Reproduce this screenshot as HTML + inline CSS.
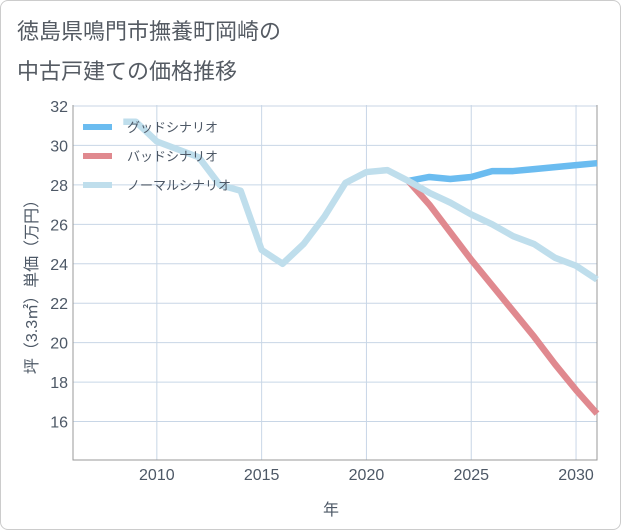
<!DOCTYPE html>
<html><head><meta charset="utf-8"><style>
body{margin:0;background:#fff;font-family:"Liberation Sans","Noto Sans CJK JP",sans-serif}
#wrap{position:relative;width:619px;height:528px;border:1px solid #ccc;border-radius:8px;background:#fff;overflow:hidden}
</style></head><body>
<div id="wrap">
<svg id="chart" width="619" height="528">
<text x="16" y="38" font-size="22" fill="#555b63">徳島県鳴門市撫養町岡崎の</text>
<text x="16" y="78" font-size="22" fill="#555b63">中古戸建ての価格推移</text>
<g id="grid"></g><g id="series"></g><g id="legend"></g>
<text x="330" y="514" font-size="16" fill="#4d5866" text-anchor="middle">年</text>
<text transform="translate(36,282) rotate(-90)" font-size="16" fill="#4d5866" text-anchor="middle">坪（3.3㎡）単価（万円）</text>
</svg></div>
<script>
const xTicks=[2010,2015,2020,2025,2030];
const yTicks=[16,18,20,22,24,26,28,30,32];
const normalYears=[2008.4,2009,2010,2011,2012,2013,2014,2015,2016,2017,2018,2019,2020,2021,2022,2023,2024,2025,2026,2027,2028,2029,2030,2031];
const normalVals=[31.2,31.2,30.2,29.8,29.4,28.0,27.7,24.7,24.0,25.0,26.4,28.1,28.65,28.75,28.2,27.6,27.1,26.5,26.0,25.4,25.0,24.3,23.9,23.2];
const goodYears=[2022,2023,2024,2025,2026,2027,2028,2029,2030,2031];
const goodVals=[28.2,28.4,28.3,28.4,28.7,28.7,28.8,28.9,29.0,29.1];
const badYears=[2022,2023,2024,2025,2026,2027,2028,2029,2030,2031];
const badVals=[28.2,27.0,25.6,24.2,22.9,21.6,20.3,18.9,17.6,16.4];
const NS="http://www.w3.org/2000/svg";
const X0=72,X1=596,Y0=104,Y1=459;
const xs=y=>X0+(y-2006)*(X1-X0)/25;
const ys=v=>Y0+(32.05-v)*(Y1-Y0)/(32.05-14.05);
function mk(t,a,p){const e=document.createElementNS(NS,t);for(const k in a)e.setAttribute(k,a[k]);p.appendChild(e);return e;}
const grid=document.getElementById('grid');
xTicks.forEach(t=>{const l=mk('line',{x1:xs(t),x2:xs(t),y1:Y0,y2:Y1,stroke:'#c8d6e6','stroke-width':1},grid);


const tx=mk('text',{x:xs(t),y:479,'font-size':16,fill:'#4d5866','text-anchor':'middle'},grid);tx.textContent=t;

});
yTicks.forEach(t=>{const l=mk('line',{x1:X0,x2:X1,y1:ys(t),y2:ys(t),stroke:'#c8d6e6','stroke-width':1},grid);


const tx=mk('text',{x:67,y:ys(t)+6,'font-size':16,fill:'#4d5866','text-anchor':'end'},grid);tx.textContent=t;

});
const ax=mk('path',{d:`M${X0},${Y0}V${Y1}H${X1}V${Y0}`,fill:'none',stroke:'#999','stroke-width':1},grid);


const ser=document.getElementById('series');
function line(yrs,vals,col,name){const d=yrs.map((y,i)=>(i?'L':'M')+xs(y)+','+ys(vals[i])).join('');
const p=mk('path',{d:d,fill:'none',stroke:col,'stroke-width':6.5,'stroke-linejoin':'round'},ser);

}
line(badYears,badVals,'#e0898f','bad-scenario-line');
line(goodYears,goodVals,'#6bbcf0','good-scenario-line');
line(normalYears,normalVals,'#bfdeec','normal-scenario-line');
const lg=document.getElementById('legend');
[['グッドシナリオ','#6bbcf0'],['バッドシナリオ','#e0898f'],['ノーマルシナリオ','#bfdeec']].forEach((e,i)=>{
const y=126+i*29;
const r=mk('line',{x1:82,x2:111,y1:y,y2:y,stroke:e[1],'stroke-width':6},lg);


const t=mk('text',{x:126,y:y+5,'font-size':13,fill:'#4d5866'},lg);t.textContent=e[0];

});
</script>
</body></html>
